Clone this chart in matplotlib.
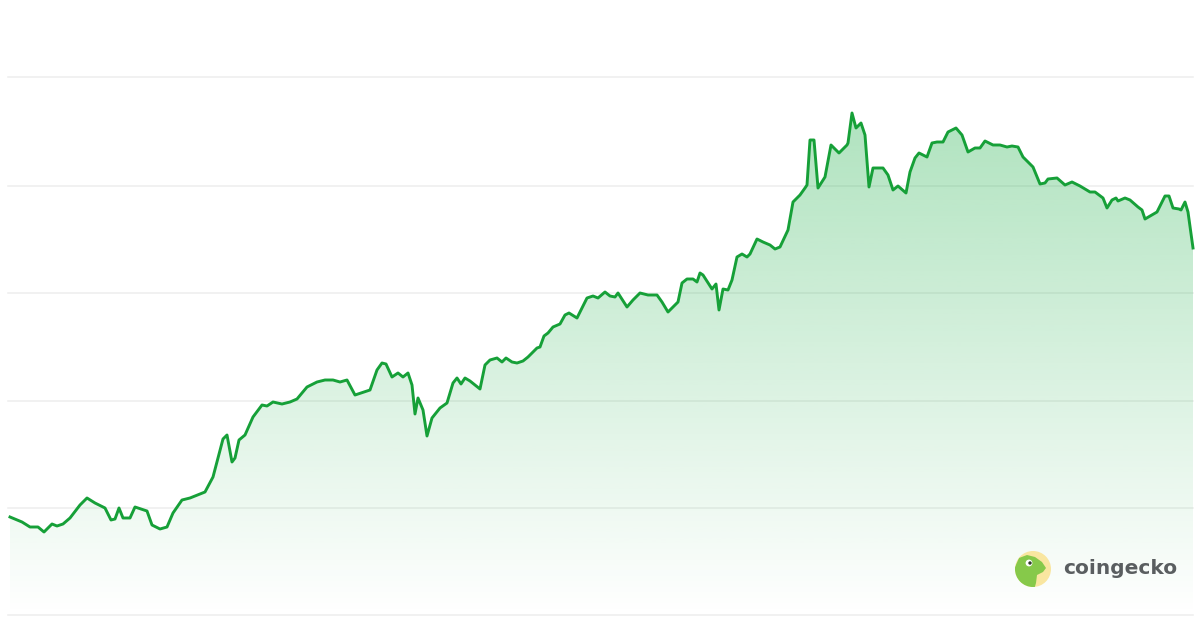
import matplotlib.pyplot as plt
import numpy as np
from matplotlib.patches import Circle, Polygon

# time position and price level (price in chart units)
t = [10, 22, 30, 38, 44, 52, 57, 63, 70, 80, 87, 95, 105, 111, 115, 119, 123, 130, 135, 147,
     152, 160, 167, 173, 182, 190, 205, 213, 223, 227, 232, 235, 239, 245, 253, 262, 267, 273,
     282, 290, 297, 307, 317, 325, 333, 340, 347, 355, 370, 377, 382, 386, 392, 398, 403, 408,
     412, 415, 418, 423, 427, 432, 440, 447, 453, 457, 461, 465, 470, 475, 480, 485, 490, 497,
     502, 506, 512, 517, 523, 528, 537, 540, 544, 548, 553, 560, 565, 569, 577, 582, 587, 593,
     598, 605, 610, 615, 618, 627, 633, 640, 648, 657, 662, 668, 675, 678, 682, 687, 693, 697,
     700, 703, 712, 716, 719, 723, 728, 732, 737, 742, 747, 750, 757, 763, 770, 775, 780, 788,
     793, 800, 805, 807, 810, 814, 818, 825, 831, 839, 847, 848, 852, 856, 861, 865, 869, 873,
     883, 888, 893, 898, 906, 910, 915, 919, 927, 932, 937, 943, 948, 956, 962, 968, 975, 980,
     985, 993, 1000, 1007, 1012, 1018, 1023, 1033, 1040, 1045, 1048, 1057, 1065, 1072, 1080,
     1090, 1095, 1103, 1107, 1112, 1116, 1118, 1125, 1130, 1138, 1142, 1145, 1157, 1165, 1169,
     1173, 1179, 1181, 1185, 1188, 1193]
price = [98, 93, 88, 88, 83, 91, 89, 91, 97, 110, 117, 112, 107, 95, 96, 107, 97, 97, 108, 104,
         90, 86, 88, 102, 115, 117, 123, 138, 176, 180, 153, 157, 175, 180, 198, 210, 209, 213,
         211, 213, 216, 228, 233, 235, 235, 233, 235, 220, 225, 245, 252, 251, 238, 242, 238, 242,
         230, 201, 217, 205, 179, 197, 207, 212, 232, 237, 231, 237, 234, 230, 226, 250, 255, 257,
         253, 257, 253, 252, 254, 258, 267, 268, 279, 282, 288, 291, 300, 302, 297, 307, 317, 319,
         317, 323, 319, 318, 322, 308, 315, 322, 320, 320, 313, 303, 310, 313, 332, 336, 336, 333,
         342, 340, 326, 331, 305, 326, 325, 335, 358, 361, 358, 361, 376, 373, 370, 366, 368, 385,
         413, 420, 427, 430, 475, 475, 427, 438, 470, 462, 470, 472, 502, 487, 492, 480, 428, 447,
         447, 440, 425, 429, 422, 443, 457, 462, 458, 472, 473, 473, 483, 487, 480, 463, 467, 467,
         474, 470, 470, 468, 469, 468, 458, 448, 431, 432, 436, 437, 430, 433, 429, 423, 423, 417,
         407, 415, 417, 414, 417, 415, 408, 405, 396, 403, 419, 419, 407, 406, 405, 413, 403, 367]
grid_levels = [0, 107, 214, 322, 429, 538]

LINE = "#16a038"

fig = plt.figure(figsize=(12, 6.3), dpi=100)
ax = fig.add_axes([0, 0, 1, 1])
ax.set_xlim(0, 1200)
ax.set_ylim(-15, 615)
ax.axis("off")

for level in grid_levels:
    ax.plot([8, 1193], [level, level], color="#ededed", linewidth=1.1, zorder=1)

# vertical gradient fill under the line
fill = ax.fill_between(t, price, 0, color="none", linewidth=0, zorder=2)
rows = 256
alpha = np.linspace(0.36, 0.0, rows)
grad = np.zeros((rows, 1, 4))
grad[:, 0, 0] = 34 / 255
grad[:, 0, 1] = 177 / 255
grad[:, 0, 2] = 76 / 255
grad[:, 0, 3] = alpha
img = ax.imshow(grad, extent=[t[0], t[-1], 0, max(price)], aspect="auto",
                origin="upper", zorder=2, interpolation="bilinear")
img.set_clip_path(fill.get_paths()[0], transform=ax.transData)

ax.plot(t, price, color=LINE, linewidth=2.1, solid_joinstyle="round", zorder=3)

# coingecko mark
ring = Circle((1033, 46), 18, facecolor="#f9e6a0", edgecolor="none", zorder=4)
ax.add_patch(ring)
head = Polygon([(1014, 30), (1015, 48), (1019, 57), (1027, 60), (1035, 58), (1042, 53),
                (1046, 47), (1043, 43), (1037, 40), (1036, 32), (1034, 25), (1014, 25)],
               closed=True, facecolor="#86c94a", edgecolor="none", zorder=5)
ax.add_patch(head)
head.set_clip_path(Circle((1033, 46), 18, transform=ax.transData))
ax.add_patch(Circle((1029, 52), 3.4, facecolor="white", edgecolor="none", zorder=6))
ax.add_patch(Circle((1030, 52), 1.7, facecolor="#2f3a2a", edgecolor="none", zorder=7))
ax.text(1063, 47, "coingecko", fontsize=14.5, fontweight="bold", color="#5a5e60",
        ha="left", va="center", family="DejaVu Sans", zorder=6)

fig.savefig("out.png", dpi=100)
